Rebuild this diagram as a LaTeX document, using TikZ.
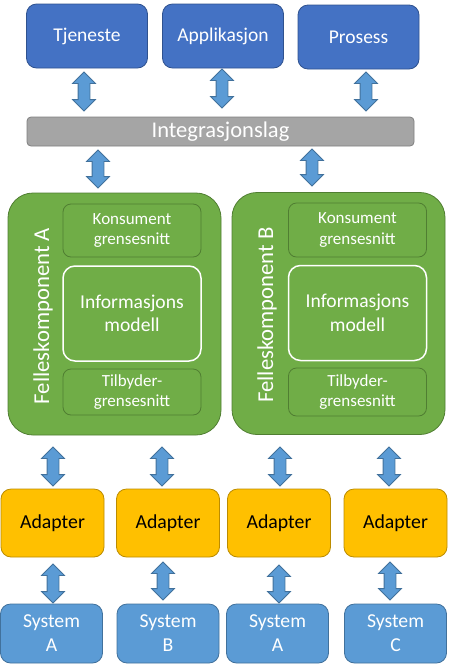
\documentclass[tikz,border=0pt]{standalone}
\usepackage{fontspec}
\setmainfont{Carlito}
\usetikzlibrary{shapes.arrows}
\definecolor{topblue}{HTML}{4472C4}
\definecolor{topline}{HTML}{2F528F}
\definecolor{layergray}{HTML}{A5A5A5}
\definecolor{layerline}{HTML}{7F7F7F}
\definecolor{compgreen}{HTML}{70AD47}
\definecolor{compline}{HTML}{507E32}
\definecolor{adaptorange}{HTML}{FFC000}
\definecolor{adaptline}{HTML}{BC8C00}
\definecolor{sysblue}{HTML}{5B9BD5}
\definecolor{sysline}{HTML}{41719C}

\begin{document}
\begin{tikzpicture}[x=1pt,y=1pt,
	box/.style={draw, inner sep=0pt, align=center, line width=0.8pt},
	topbox/.style={box, rounded corners=10pt, fill=topblue, draw=topline, text=white, minimum width=121pt, minimum height=64pt, font=\fontsize{19.5}{23.5}\selectfont},
	layerbox/.style={box, rounded corners=4pt, fill=layergray, draw=layerline, text=white, minimum width=387pt, minimum height=29pt, font=\fontsize{22.5}{27}\selectfont},
	compbox/.style={box, rounded corners=25pt, fill=compgreen, draw=compline, minimum width=213pt, minimum height=242pt},
	compname/.style={rotate=90, text=white, inner sep=0pt, font=\fontsize{22.7}{27}\selectfont},
	facebox/.style={box, rounded corners=8pt, fill=compgreen, draw=compline, text=white, minimum width=138pt, font=\fontsize{17}{20.7}\selectfont},
	infobox/.style={box, rounded corners=12pt, fill=compgreen, draw=white, line width=1.5pt, text=white, minimum width=138pt, minimum height=95pt, font=\fontsize{19.6}{23.5}\selectfont},
	adaptbox/.style={box, rounded corners=10pt, fill=adaptorange, draw=adaptline, text=black, minimum width=103pt, minimum height=68pt, font=\fontsize{19.8}{23.8}\selectfont},
	sysbox/.style={box, rounded corners=10pt, fill=sysblue, draw=sysline, text=white, minimum width=102pt, minimum height=59pt, font=\fontsize{19.7}{24}\selectfont},
	biarrow/.style={double arrow, rotate=90, fill=sysblue, draw=sysline, line width=0.8pt, inner xsep=0pt, inner ysep=5.5pt, double arrow head extend=5.5pt}]
	\useasboundingbox (0,0) rectangle (458,-667);
	% consumers
	\node[topbox] (tjeneste) at (87,-36) {Tjeneste};
	\node[topbox] (applikasjon) at (223,-36) {Applikasjon};
	\node[topbox] (prosess) at (358.5,-37) {Prosess};
	\node[layerbox] (integ) at (220.5,-131.5) {Integrasjonslag};
	\node[biarrow, minimum height=39pt] (tjenarrow) at (84,-91.5) {};
	\node[biarrow, minimum height=39pt] (apparrow) at (222,-88.5) {};
	\node[biarrow, minimum height=39pt] (prosarrow) at (366,-91.5) {};
	\node[biarrow, minimum height=38pt] (integarrowA) at (98,-169) {};
	\node[biarrow, minimum height=37pt] (integarrowB) at (312,-167.5) {};
	% shared components
	\node[compbox] (compA) at (114.5,-314) {};
	\node[compname] (nameA) at (43,-316) {Felleskomponent A};
	\node[facebox, minimum height=53pt] (konsA) at (132,-230.5) {Konsument\\grensesnitt};
	\node[infobox] (infoA) at (132,-313.5) {Informasjons\\modell};
	\node[facebox, minimum height=46pt] (tilbA) at (132,-392) {Tilbyder-\\grensesnitt};
	\node[compbox] (compB) at (338.5,-313.5) {};
	\node[compname] (nameB) at (267,-315) {Felleskomponent B};
	\node[facebox, minimum height=54pt] (konsB) at (357.5,-230) {Konsument\\grensesnitt};
	\node[infobox] (infoB) at (357.5,-313) {Informasjons\\modell};
	\node[facebox, minimum height=48pt] (tilbB) at (357.5,-392) {Tilbyder-\\grensesnitt};
	% adapters and systems
	\node[adaptbox] (adapt1) at (52.5,-523) {Adapter};
	\node[adaptbox] (adapt2) at (168,-523) {Adapter};
	\node[adaptbox] (adapt3) at (279,-523) {Adapter};
	\node[adaptbox] (adapt4) at (395.5,-523) {Adapter};
	\node[sysbox] (sys1) at (51.5,-633.5) {System\\A};
	\node[sysbox] (sys2) at (168,-633.5) {System\\B};
	\node[sysbox] (sys3) at (277.5,-633.5) {System\\A};
	\node[sysbox] (sys4) at (395.5,-633.5) {System\\C};
	\node[biarrow, minimum height=39pt] (adaptarrow1) at (53,-466.5) {};
	\node[biarrow, minimum height=39pt] (adaptarrow2) at (162,-466.5) {};
	\node[biarrow, minimum height=39pt] (adaptarrow3) at (280,-466.5) {};
	\node[biarrow, minimum height=39pt] (adaptarrow4) at (389,-466.5) {};
	\node[biarrow, minimum height=39pt] (sysarrow1) at (53,-583.5) {};
	\node[biarrow, minimum height=38pt] (sysarrow2) at (163,-581) {};
	\node[biarrow, minimum height=38pt] (sysarrow3) at (279,-584) {};
	\node[biarrow, minimum height=38pt] (sysarrow4) at (390,-581) {};
\end{tikzpicture}
\end{document}
